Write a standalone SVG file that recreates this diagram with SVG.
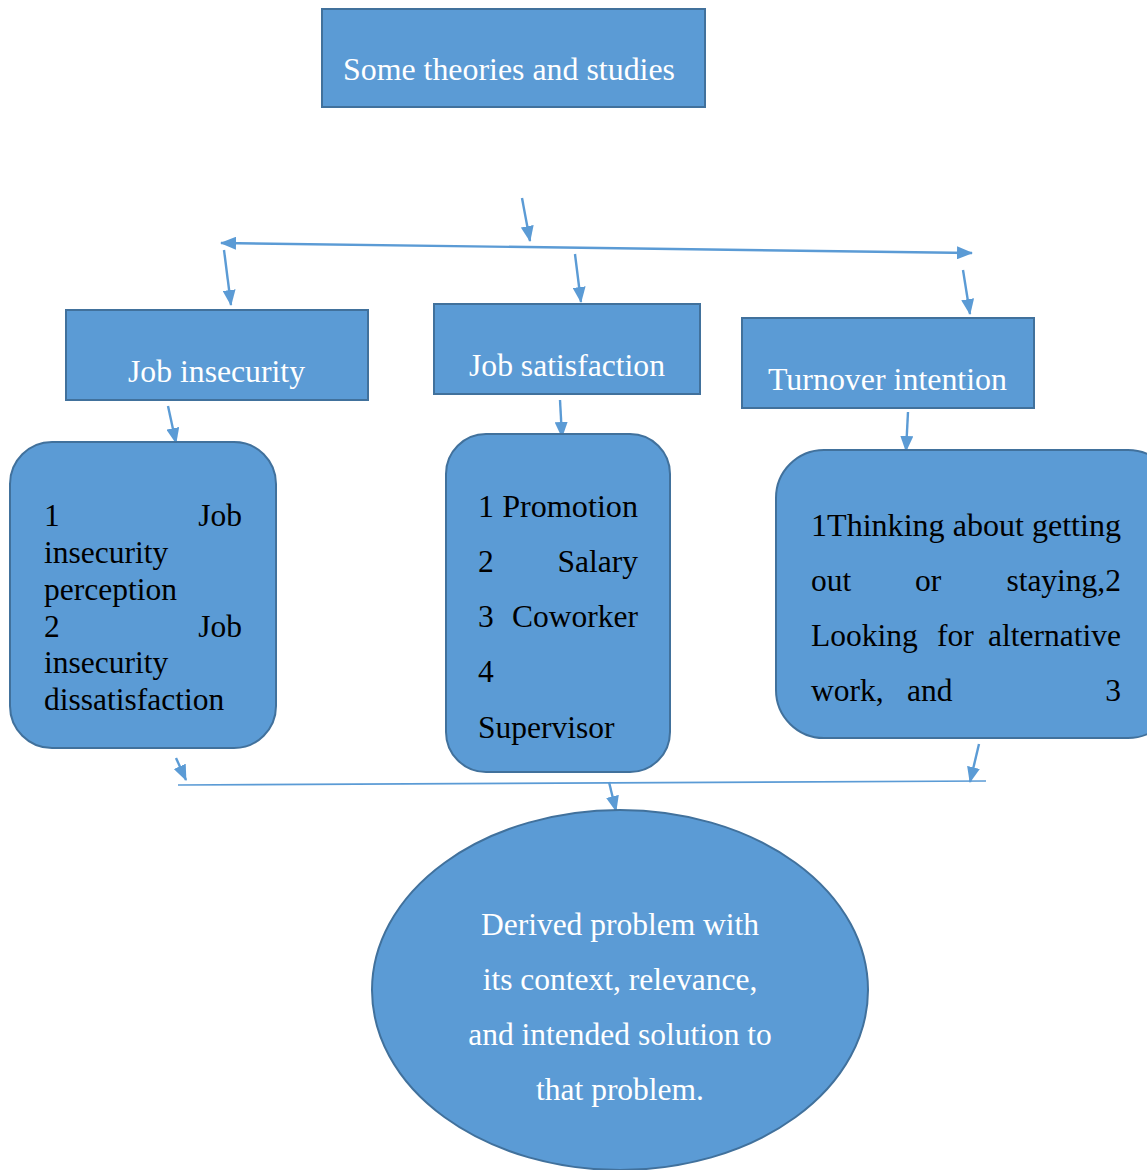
<svg xmlns="http://www.w3.org/2000/svg" width="1147" height="1170" viewBox="0 0 1147 1170">
<defs>
<marker id="ah" viewBox="0 0 16 13" refX="15" refY="6.5" markerWidth="16" markerHeight="13" orient="auto-start-reverse" markerUnits="userSpaceOnUse">
<path d="M0,0 L16,6.5 L0,13 Z" fill="#5B9BD5"/>
</marker>
<style>
.box{fill:#5B9BD5;stroke:#41719C;stroke-width:2}
.w{fill:#fff;font-family:"Liberation Serif",Tinos,"Times New Roman",Times,"DejaVu Serif",serif;font-size:31.5px}
.b{fill:#000;font-family:"Liberation Serif",Tinos,"Times New Roman",Times,"DejaVu Serif",serif;font-size:31.5px}
.c{text-anchor:middle}
.e{text-anchor:end}
.ln{stroke:#5B9BD5;stroke-width:2.2;fill:none}
.arr{stroke:#5B9BD5;stroke-width:2.4;fill:none;marker-end:url(#ah)}
</style>
</defs>
<rect width="1147" height="1170" fill="#fff"/>
<g id="connectors">
<line class="arr" x1="522" y1="198" x2="530" y2="241"/>
<line class="arr" x1="221" y1="243" x2="972" y2="253" style="marker-start:url(#ah)"/>
<line class="arr" x1="224" y1="250" x2="231" y2="305"/>
<line class="arr" x1="575" y1="254" x2="581" y2="302"/>
<line class="arr" x1="963" y1="270" x2="970" y2="314"/>
<line class="arr" x1="168" y1="406" x2="176" y2="443"/>
<line class="arr" x1="560" y1="400" x2="562" y2="437"/>
<line class="arr" x1="908" y1="412" x2="906" y2="451"/>
<line class="arr" x1="176" y1="758" x2="186" y2="780"/>
<line class="arr" x1="979" y1="744" x2="970" y2="782"/>
<line class="ln" x1="178" y1="785" x2="986" y2="781" style="stroke-width:1.6"/>
<line class="arr" x1="609" y1="782" x2="616" y2="811"/>
</g>
<g id="n-theories">
<rect class="box" x="322" y="9" width="383" height="98"/>
<text class="w" x="343" y="80" textLength="332" lengthAdjust="spacingAndGlyphs">Some theories and studies</text>
</g>
<g id="n-insecurity">
<rect class="box" x="66" y="310" width="302" height="90"/>
<text class="w" x="128" y="382" textLength="177" lengthAdjust="spacingAndGlyphs">Job insecurity</text>
</g>
<g id="n-satisfaction">
<rect class="box" x="434" y="304" width="266" height="90"/>
<text class="w" x="469" y="376" textLength="196" lengthAdjust="spacingAndGlyphs">Job satisfaction</text>
</g>
<g id="n-turnover">
<rect class="box" x="742" y="318" width="292" height="90"/>
<text class="w" x="768" y="390" textLength="239" lengthAdjust="spacingAndGlyphs">Turnover intention</text>
</g>
<g id="n-insecurity-items">
<rect class="box" x="10" y="442" width="266" height="306" rx="42" ry="42"/>
<text class="b" x="44" y="526">1</text>
<text class="b e" x="242" y="526">Job</text>
<text class="b" x="44" y="563">insecurity</text>
<text class="b" x="44" y="600">perception</text>
<text class="b" x="44" y="637">2</text>
<text class="b e" x="242" y="637">Job</text>
<text class="b" x="44" y="673">insecurity</text>
<text class="b" x="44" y="710">dissatisfaction</text>
</g>
<g id="n-satisfaction-items">
<rect class="box" x="446" y="434" width="224" height="338" rx="40" ry="40"/>
<text class="b" x="478" y="517" textLength="160" lengthAdjust="spacingAndGlyphs">1 Promotion</text>
<text class="b" x="478" y="572">2</text>
<text class="b e" x="638" y="572">Salary</text>
<text class="b" x="478" y="627">3</text>
<text class="b e" x="638" y="627">Coworker</text>
<text class="b" x="478" y="682">4</text>
<text class="b" x="478" y="738">Supervisor</text>
</g>
<g id="n-turnover-items">
<rect class="box" x="776" y="450" width="400" height="288" rx="48" ry="48"/>
<text class="b" x="811" y="536" textLength="310" lengthAdjust="spacingAndGlyphs">1Thinking about getting</text>
<text class="b" x="811" y="591">out</text>
<text class="b" x="915" y="591">or</text>
<text class="b e" x="1121" y="591">staying,2</text>
<text class="b" x="811" y="646">Looking</text>
<text class="b" x="937" y="646">for</text>
<text class="b e" x="1121" y="646">alternative</text>
<text class="b" x="811" y="701">work,</text>
<text class="b" x="907" y="701">and</text>
<text class="b e" x="1121" y="701">3</text>
</g>
<g id="n-problem">
<ellipse class="box" cx="620" cy="990" rx="248" ry="180"/>
<text class="w c" x="620" y="935">Derived problem with</text>
<text class="w c" x="620" y="990">its context, relevance,</text>
<text class="w c" x="620" y="1045">and intended solution to</text>
<text class="w c" x="620" y="1100">that problem.</text>
</g>
</svg>
